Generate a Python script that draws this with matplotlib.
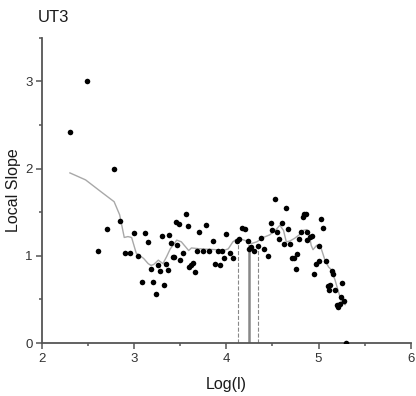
import matplotlib
matplotlib.use("Agg")
import matplotlib.pyplot as plt
from matplotlib.ticker import MultipleLocator

plt.rcParams['font.family'] = ['Liberation Sans', 'DejaVu Sans']

# scatter points: Log(l) vs local slope
log_l = [2.30, 2.48, 2.78, 2.60, 2.70, 2.84, 2.90, 2.95, 3.00, 3.04, 3.08, 3.11, 3.15,
         3.18, 3.20, 3.23, 3.26, 3.28, 3.30, 3.32, 3.34, 3.36, 3.38, 3.40, 3.42, 3.43,
         3.45, 3.46, 3.48, 3.50, 3.53, 3.56, 3.58, 3.59, 3.61, 3.64, 3.66, 3.68, 3.70,
         3.74, 3.78, 3.81, 3.85, 3.88, 3.91, 3.93, 3.95, 3.97, 4.00, 4.04, 4.07, 4.11,
         4.14, 4.17, 4.20, 4.23, 4.25, 4.27, 4.30, 4.34, 4.38, 4.41, 4.45, 4.48, 4.50,
         4.53, 4.55, 4.57, 4.60, 4.62, 4.65, 4.67, 4.69, 4.71, 4.73, 4.75, 4.77, 4.79,
         4.81, 4.83, 4.84, 4.86, 4.87, 4.88, 4.91, 4.93, 4.95, 4.97, 5.00, 5.01, 5.03,
         5.05, 5.08, 5.10, 5.11, 5.13, 5.15, 5.16, 5.18, 5.20, 5.21, 5.23, 5.24, 5.25,
         5.28, 5.30]
slope = [2.42, 3.00, 2.00, 1.05, 1.31, 1.40, 1.03, 1.03, 1.26, 1.00, 0.70, 1.26, 1.16,
         0.85, 0.70, 0.56, 0.89, 0.82, 1.23, 0.66, 0.91, 0.84, 1.24, 1.15, 0.99, 0.99,
         1.39, 1.12, 1.36, 0.95, 1.03, 1.48, 1.34, 0.87, 0.89, 0.92, 0.81, 1.05, 1.27,
         1.05, 1.35, 1.05, 1.17, 0.91, 1.05, 0.89, 1.05, 0.97, 1.25, 1.03, 0.97, 1.17,
         1.19, 1.32, 1.31, 1.17, 1.08, 1.10, 1.05, 1.11, 1.20, 1.08, 1.00, 1.38, 1.30,
         1.65, 1.27, 1.19, 1.38, 1.13, 1.55, 1.31, 1.13, 0.98, 0.97, 0.85, 1.02, 1.19,
         1.27, 1.45, 1.48, 1.48, 1.18, 1.27, 1.21, 1.23, 0.79, 0.91, 0.94, 1.11, 1.42,
         1.32, 0.94, 0.65, 0.61, 0.66, 0.82, 0.79, 0.61, 0.44, 0.41, 0.45, 0.53, 0.69,
         0.48, 0.00]

# smoothed curve
smooth_x = [2.30, 2.47, 2.63, 2.73, 2.78, 2.84, 2.89, 2.93, 2.97, 3.02, 3.10, 3.15, 3.18,
            3.21, 3.26, 3.31, 3.35, 3.39, 3.42, 3.46, 3.51, 3.55, 3.59, 3.62, 3.71, 3.89,
            3.97, 4.02, 4.07, 4.11, 4.16, 4.22, 4.27, 4.33, 4.40, 4.47, 4.53, 4.58, 4.62,
            4.65, 4.69, 4.74, 4.79, 4.83, 4.87, 4.90, 4.92, 4.94, 4.98, 5.03, 5.07, 5.11,
            5.14, 5.18, 5.21, 5.25, 5.29]
smooth_y = [1.95, 1.87, 1.74, 1.66, 1.62, 1.47, 1.21, 1.22, 1.21, 1.03, 0.97, 0.91, 0.89,
            0.90, 0.95, 0.91, 0.99, 1.08, 1.12, 1.18, 1.16, 1.11, 1.06, 1.09, 1.08, 1.07,
            1.06, 1.08, 1.16, 1.19, 1.19, 1.17, 1.14, 1.16, 1.21, 1.24, 1.29, 1.35, 1.29,
            1.16, 1.17, 1.20, 1.24, 1.29, 1.30, 1.24, 1.12, 1.07, 1.12, 1.08, 0.95, 0.87,
            0.84, 0.72, 0.61, 0.47, 0.44]

# scaling region markers
region_x = [4.13, 4.25, 4.34]
region_top = [1.18, 1.11, 1.10]
region_style = ['--', '-', '--']

fig = plt.figure(figsize=(4.16, 3.96), dpi=100)
ax = fig.add_axes([0.1017, 0.1338, 0.8853, 0.7710])

ax.plot(smooth_x, smooth_y, color='#a8a8a8', lw=1.0, zorder=2)
ax.scatter(log_l, slope, s=16, color='black', zorder=3, linewidths=0)

for x, top, ls in zip(region_x, region_top, region_style):
    lw = 1.8 if ls == '-' else 0.8
    ax.plot([x, x], [0, top], color='#888888', lw=lw, ls=ls, zorder=1)

ax.set_xlim(2, 6)
ax.set_ylim(0, 3.5)
ax.xaxis.set_major_locator(MultipleLocator(1))
ax.xaxis.set_minor_locator(MultipleLocator(0.5))
ax.yaxis.set_major_locator(MultipleLocator(1))
ax.yaxis.set_minor_locator(MultipleLocator(0.5))

for s in ['top', 'right']:
    ax.spines[s].set_visible(False)
for s in ['left', 'bottom']:
    ax.spines[s].set_color('#555555')
    ax.spines[s].set_linewidth(1.3)

ax.tick_params(which='major', direction='out', length=4, width=1.1, color='#555555',
               labelsize=9.5, labelcolor='#333333', pad=3)
ax.tick_params(which='minor', direction='out', length=2.5, width=1.1, color='#555555')

ax.set_xlabel('Log(l)', fontsize=11.5, color='#1a1a1a', labelpad=9)
ax.set_ylabel('Local Slope', fontsize=11.5, color='#1a1a1a', labelpad=3)
fig.text(0.091, 0.944, 'UT3', fontsize=12, color='#1a1a1a', ha='left', va='baseline')

fig.savefig('out.png', dpi=100)
